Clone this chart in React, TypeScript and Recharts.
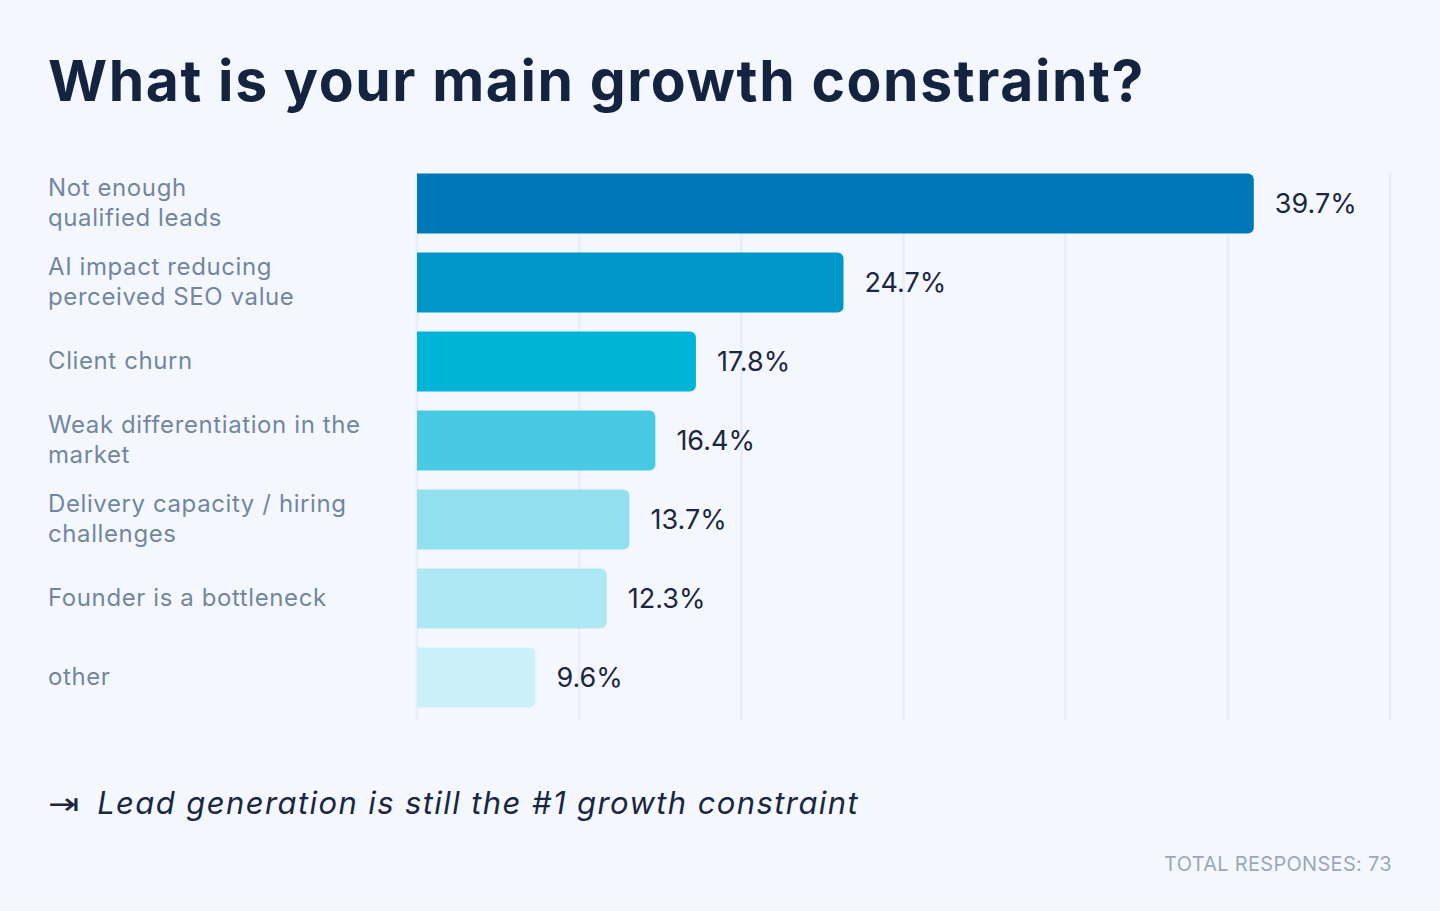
import React from 'react';
import { BarChart, Bar, XAxis, YAxis, CartesianGrid, Cell, LabelList } from 'recharts';

const categories = [
  'Not enough\nqualified leads',
  'AI impact reducing\nperceived SEO value',
  'Client churn',
  'Weak differentiation in the\nmarket',
  'Delivery capacity / hiring\nchallenges',
  'Founder is a bottleneck',
  'other',
];

// share of respondents printed next to each bar
const shares = [39.7, 24.7, 17.8, 16.4, 13.7, 12.3, 9.6];

// bar lengths as drawn, read against the 0–60 grid
const barLengths = [51.6, 26.3, 17.2, 14.7, 13.1, 11.7, 7.3];

const gridTicks = [0, 10, 20, 30, 40, 50, 60];

const BAR_COLORS = [
  '#0077b6',
  '#0096c7',
  '#00b4d8',
  '#48cae4',
  '#90e0ef',
  '#ade8f4',
  '#caf0f8',
];

const FONT = 'Inter, "Noto Sans", sans-serif';
const NAVY = '#14233f';

const data = categories.map((category, i) => ({
  category,
  length: barLengths[i],
  share: shares[i],
}));

const CategoryTick = (props: any) => {
  const { y, payload } = props;
  const lines: string[] = String(payload.value).split('\n');
  const lineHeight = 30;
  const startY = y - ((lines.length - 1) * lineHeight) / 2;
  return (
    <text
      x={48}
      y={startY}
      fill="#7386a0"
      fontSize={24}
      fontFamily={FONT}
      letterSpacing={0.6}
      textAnchor="start"
    >
      {lines.map((line, i) => (
        <tspan key={i} x={48} y={startY + i * lineHeight} dy="0.35em">
          {line}
        </tspan>
      ))}
    </text>
  );
};

const GridLine = (props: any) => (
  <line
    key={props.key}
    x1={props.x1}
    x2={props.x2}
    y1={props.y1 + 9}
    y2={props.y2 + 4}
    stroke="#e9eff9"
    strokeWidth={3}
  />
);

// vertical grid positions from the x axis scale
const gridX = ({ xAxis, offset }: any) =>
  gridTicks.map((t) =>
    xAxis && typeof xAxis.scale === 'function'
      ? xAxis.scale(t)
      : offset.left + (offset.width * t) / gridTicks[gridTicks.length - 1],
  );

export default function App() {
  return (
    <div
      style={{
        position: 'absolute',
        top: 0,
        left: 0,
        width: 1440,
        height: 911,
        background: '#f4f8fe',
        fontFamily: FONT,
        overflow: 'hidden',
      }}
    >
      <div style={{ position: 'absolute', top: 0, left: 0 }}>
        <BarChart
          width={1440}
          height={911}
          data={data}
          layout="vertical"
          margin={{ top: 163.5, right: 50, bottom: 194.5, left: 0 }}
          barSize={60}
        >
          <CartesianGrid horizontal={false} vertical={GridLine} verticalCoordinatesGenerator={gridX} />
          <XAxis
            type="number"
            domain={[0, 60]}
            ticks={gridTicks}
            tick={{ fill: 'transparent' }}
            axisLine={false}
            tickLine={false}
            height={0}
          />
          <YAxis
            type="category"
            dataKey="category"
            width={417}
            axisLine={false}
            tickLine={false}
            tick={<CategoryTick />}
            interval={0}
          />
          <Bar dataKey="length" radius={[0, 6, 6, 0]} isAnimationActive={false}>
            {data.map((entry, index) => (
              <Cell key={`cell-${index}`} fill={BAR_COLORS[index % BAR_COLORS.length]} />
            ))}
            <LabelList
              dataKey="share"
              position="right"
              offset={21}
              fill="#1b2740"
              fontSize={27}
              fontFamily={FONT}
              formatter={(v: any) => `${Number(v).toFixed(1)}%`}
            />
          </Bar>
        </BarChart>
      </div>

      <div
        style={{
          position: 'absolute',
          left: 48,
          top: 46,
          fontSize: 57,
          fontWeight: 700,
          letterSpacing: 1.6,
          color: NAVY,
          whiteSpace: 'nowrap',
          lineHeight: '70px',
        }}
      >
        What is your main growth constraint?
      </div>

      <div
        style={{
          position: 'absolute',
          left: 48,
          top: 783,
          fontSize: 31,
          color: '#1b2740',
          whiteSpace: 'nowrap',
          lineHeight: '40px',
        }}
      >
        <span
          style={{
            fontSize: 30,
            fontFamily: '"DejaVu Sans", sans-serif',
            marginRight: 24,
            display: 'inline-block',
            transform: 'scaleX(1.25)',
            transformOrigin: 'left',
          }}
        >
          ⇥
        </span>
        <span style={{ fontStyle: 'italic', letterSpacing: 1.4 }}>
          Lead generation is still the #1 growth constraint
        </span>
      </div>

      <div
        style={{
          position: 'absolute',
          right: 48,
          top: 851,
          fontSize: 20,
          letterSpacing: 0.3,
          color: '#9aa8ba',
          whiteSpace: 'nowrap',
          lineHeight: '26px',
        }}
      >
        TOTAL RESPONSES: 73
      </div>
    </div>
  );
}
